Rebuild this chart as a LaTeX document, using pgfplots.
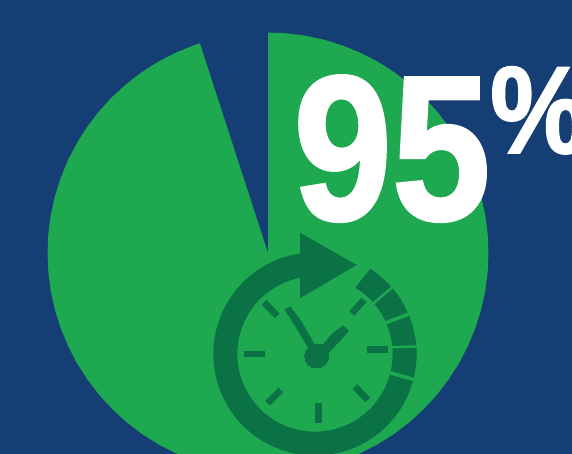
\documentclass[border=0pt]{standalone}
\usepackage{pgfplots}
\usepackage{fontspec}
\pgfplotsset{compat=1.18}
\newfontfamily\heavy[FakeBold=1.6]{Liberation Sans Bold}
\definecolor{bg}{RGB}{21,62,117}
\definecolor{pie}{RGB}{30,168,80}
\definecolor{dark}{RGB}{11,114,70}

\begin{document}
\begin{tikzpicture}
    \path[use as bounding box] (0,0) rectangle (572pt,454pt);
    \clip (0,0) rectangle (572pt,454pt);
    \begin{axis}[
        at={(0,0)}, anchor=south west,
        scale only axis,
        width=572pt, height=454pt,
        xmin=-268, xmax=304,
        ymin=-201, ymax=253,
        hide axis,
        clock/.style={draw=none, fill=dark, no markers, shift={(47pt,-101pt)}},
        tick/.style={draw=dark, line width=6.7pt, no markers, shift={(47pt,-101pt)}},
    ]
    % background
    \addplot[draw=none, fill=bg] coordinates {(-268,-201)(304,-201)(304,253)(-268,253)} --cycle;

    % the 95 percent slice, angle and radius
    \addplot[draw=none, fill=pie, data cs=polar] coordinates {
        (0,0)(108,220.5)(110,220.5)(115,220.5)(120,220.5)(125,220.5)(130,220.5)(135,220.5)
        (140,220.5)(145,220.5)(150,220.5)(155,220.5)(160,220.5)(165,220.5)(170,220.5)(175,220.5)
        (180,220.5)(185,220.5)(190,220.5)(195,220.5)(200,220.5)(205,220.5)(210,220.5)(215,220.5)
        (220,220.5)(225,220.5)(230,220.5)(235,220.5)(240,220.5)(245,220.5)(250,220.5)(255,220.5)
        (260,220.5)(265,220.5)(270,220.5)(275,220.5)(280,220.5)(285,220.5)(290,220.5)(295,220.5)
        (300,220.5)(305,220.5)(310,220.5)(315,220.5)(320,220.5)(325,220.5)(330,220.5)(335,220.5)
        (340,220.5)(345,220.5)(350,220.5)(355,220.5)(360,220.5)(365,220.5)(370,220.5)(375,220.5)
        (380,220.5)(385,220.5)(390,220.5)(395,220.5)(400,220.5)(405,220.5)(410,220.5)(415,220.5)
        (420,220.5)(425,220.5)(430,220.5)(435,220.5)(440,220.5)(445,220.5)(450,220.5)
    } --cycle;

    % arrow ring
    \addplot[clock, data cs=polar] coordinates {
        (98.5,101.7)(105,101.7)(110,101.7)(115,101.7)(120,101.7)(125,101.7)(130,101.7)(135,101.7)
        (140,101.7)(145,101.7)(150,101.7)(155,101.7)(160,101.7)(165,101.7)(170,101.7)(175,101.7)
        (180,101.7)(185,101.7)(190,101.7)(195,101.7)(200,101.7)(205,101.7)(210,101.7)(215,101.7)
        (220,101.7)(225,101.7)(230,101.7)(235,101.7)(240,101.7)(245,101.7)(250,101.7)(255,101.7)
        (260,101.7)(265,101.7)(270,101.7)(275,101.7)(280,101.7)(285,101.7)(290,101.7)(295,101.7)
        (300,101.7)(305,101.7)(310,101.7)(315,101.7)(320,101.7)(325,101.7)(330,101.7)(335,101.7)
        (340,101.7)(344.5,101.7)
        (344.5,77.7)(340,77.7)(335,77.7)(330,77.7)(325,77.7)(320,77.7)(315,77.7)(310,77.7)
        (305,77.7)(300,77.7)(295,77.7)(290,77.7)(285,77.7)(280,77.7)(275,77.7)(270,77.7)
        (265,77.7)(260,77.7)(255,77.7)(250,77.7)(245,77.7)(240,77.7)(235,77.7)(230,77.7)
        (225,77.7)(220,77.7)(215,77.7)(210,77.7)(205,77.7)(200,77.7)(195,77.7)(190,77.7)
        (185,77.7)(180,77.7)(175,77.7)(170,77.7)(165,77.7)(160,77.7)(155,77.7)(150,77.7)
        (145,77.7)(140,77.7)(135,77.7)(130,77.7)(125,77.7)(120,77.7)(115,77.7)(110,77.7)
        (105,77.7)(101.1,77.7)
    } --cycle;
    \addplot[clock] coordinates {(-15,121.3)(41.7,89)(-15,55.7)} --cycle;

    % the four loose segments
    \addplot[clock, data cs=polar] coordinates {
        (3.4,101.7)(-2,101.7)(-8,101.7)(-13.5,101.7)(-12.7,77.7)(-8,77.7)(-2,77.7)(4.2,77.7)} --cycle;
    \addplot[clock, data cs=polar] coordinates {
        (22,101.7)(16,101.7)(10,101.7)(5,101.7)(5.9,77.7)(10,77.7)(16,77.7)(22.5,77.7)} --cycle;
    \addplot[clock, data cs=polar] coordinates {
        (40,101.7)(35,101.7)(30,101.7)(24.1,101.7)(25.2,77.7)(30,77.7)(35,77.7)(39.9,77.7)} --cycle;
    \addplot[clock, data cs=polar] coordinates {
        (57,101.7)(52,101.7)(47,101.7)(41.6,101.7)(41.9,77.7)(47,77.7)(52,77.7)(58.8,77.7)} --cycle;

    % hour ticks
    \addplot[tick] coordinates {(-71,0)(-50.3,0)};
    \addplot[tick] coordinates {(52.3,4.7)(72.7,4.7)};
    \addplot[tick] coordinates {(3.3,-48.7)(3.3,-68.7)};
    \addplot[tick] coordinates {(-51,51.7)(-37.7,38)};
    \addplot[tick] coordinates {(49,54)(36.7,40.7)};
    \addplot[tick] coordinates {(40,-32.7)(52.7,-46)};
    \addplot[tick] coordinates {(-34.3,-36)(-47.3,-49.3)};

    % hands and hub
    \addplot[clock] coordinates {(-30.7,44.7)(-24.3,47.3)(-13.3,32.3)(0,9)(-6.7,5.7)(-20,28)} --cycle;
    \addplot[clock] coordinates {(28.3,28.7)(34,23)(24.3,12.3)(13.3,0.7)(6.7,8)(17.3,20.7)} --cycle;
    \addplot[only marks, mark=*, mark size=12pt, color=dark, mark options={draw=dark, fill=dark, line width=0pt},
        shift={(47pt,-101pt)}] coordinates {(1.7,-2)};

    \node[anchor=base, white, inner sep=0pt] at (axis cs:124,33.5)
        {\scalebox{0.86}[1]{\fontsize{206}{206}\heavy 95}};
    \node[anchor=base west, white, inner sep=0pt] at (axis cs:222,100)
        {\scalebox{0.88}[1]{\fontsize{124}{124}\heavy \%}};
    \end{axis}
\end{tikzpicture}
\end{document}
